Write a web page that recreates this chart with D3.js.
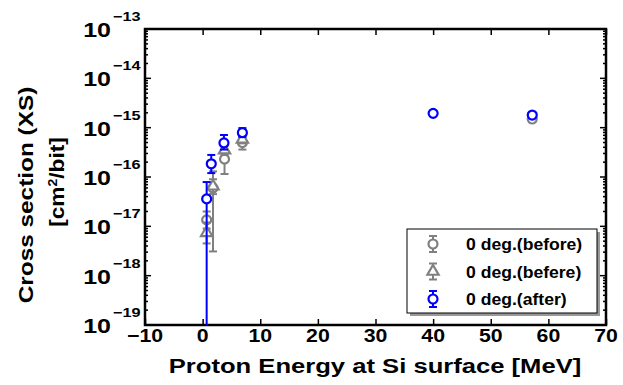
<!doctype html>
<html lang="en">
    <head>
        <meta charset="utf-8">
        <title>Cross section vs proton energy</title>
        <script type="text/javascript" src="https://cdn.jsdelivr.net/npm/d3@7"></script>
        <style>
            body { margin: 0; background: #fff; }
            svg text { font-family: "Liberation Sans", Arial, sans-serif; font-weight: bold; }
        </style>
    </head>
    <body>
        <script type="text/javascript">
            var svgW = 623;
            var svgH = 385;
            var plot = {left: 145, right: 606, top: 29, bottom: 325};

            // data (energy in MeV, cross section in cm2/bit)
            var beforeX  = [0.7, 1.8, 3.8, 6.9, 57.2];
            var beforeY  = [1.35e-17, 6.0e-17, 2.3e-16, 5.0e-16, 1.5e-15];
            var beforeLo = [9.0e-18, 3.1e-18, 1.15e-16, 3.6e-16, 1.3e-15];
            var beforeHi = [2.0e-17, 1.3e-16, 4.5e-16, 7.0e-16, 1.7e-15];

            var befereX  = [0.7, 1.8, 3.8, 6.9];
            var befereY  = [7.4e-18, 6.5e-17, 3.5e-16, 5.8e-16];
            var befereLo = [4.5e-18, 4.5e-17, 2.8e-16, 4.8e-16];
            var befereHi = [1.2e-17, 9.0e-17, 4.3e-16, 7.0e-16];

            var afterX  = [0.7, 1.5, 3.7, 6.9, 40.0, 57.2];
            var afterY  = [3.6e-17, 1.85e-16, 4.9e-16, 7.9e-16, 1.95e-15, 1.8e-15];
            var afterLo = [1e-20, 1.2e-16, 3.6e-16, 6.5e-16, 1.8e-15, 1.65e-15];
            var afterHi = [7.9e-17, 2.8e-16, 7.1e-16, 9.8e-16, 2.1e-15, 1.95e-15];

            var xTicks = [-10, 0, 10, 20, 30, 40, 50, 60, 70];
            var yExps = [-19, -18, -17, -16, -15, -14, -13];
            var legendLabels = ["0 deg.(before)", "0 deg.(befere)", "0 deg.(after)"];

            var gray = "#808080";
            var blue = "#0000ff";

            var xScale = d3.scaleLinear()
                           .domain([-10, 70])
                           .range([plot.left, plot.right]);
            var yScale = d3.scaleLog()
                           .domain([1e-19, 1e-13])
                           .range([plot.bottom, plot.top]);

            var svg = d3.select("body")
                        .append("svg")
                        .attr("width", svgW)
                        .attr("height", svgH);

            svg.append("defs").append("clipPath")
               .attr("id", "clip")
               .append("rect")
               .attr("x", plot.left)
               .attr("y", plot.top)
               .attr("width", plot.right - plot.left)
               .attr("height", plot.bottom - plot.top);

            // axes: ticks point inward on all four sides
            var axisBottom = d3.axisBottom(xScale).tickValues(xTicks).tickSizeInner(-6).tickSizeOuter(0).tickFormat("");
            var axisTop = d3.axisTop(xScale).tickValues(xTicks).tickSizeInner(-6).tickSizeOuter(0).tickFormat("");

            var minorVals = [];
            yExps.forEach(e => {
                if (e < -13) for (var m = 2; m < 10; m++) minorVals.push(m * Math.pow(10, e));
            });
            var majorVals = yExps.map(e => Math.pow(10, e));

            svg.append("g")
               .attr("transform", "translate(0," + plot.bottom + ")")
               .call(axisBottom);
            svg.append("g")
               .attr("transform", "translate(0," + plot.top + ")")
               .call(axisTop);

            // x tick labels (the original font is a little wider than Liberation)
            svg.selectAll("text.xlab")
               .data(xTicks)
               .enter()
               .append("text")
               .attr("class", "xlab")
               .attr("transform", d => "translate(" + xScale(d) + ",342) scale(1.12,1)")
               .attr("text-anchor", "middle")
               .style("font-size", "19px")
               .text(d => d < 0 ? "\u2212" + (-d) : d);

            function yAxis(side, sign) {
                var g = svg.append("g")
                           .attr("transform", "translate(" + side + ",0)");
                g.selectAll("line.major")
                 .data(majorVals)
                 .enter()
                 .append("line")
                 .attr("x1", 0).attr("x2", sign * 6)
                 .attr("y1", d => yScale(d)).attr("y2", d => yScale(d));
                g.selectAll("line.minor")
                 .data(minorVals)
                 .enter()
                 .append("line")
                 .attr("x1", 0).attr("x2", sign * 3)
                 .attr("y1", d => yScale(d)).attr("y2", d => yScale(d));
                g.selectAll("line").attr("stroke", "#000").attr("stroke-width", 1.5);
                return g;
            }
            yAxis(plot.left, 1);
            yAxis(plot.right, -1);

            svg.selectAll(".domain").remove();
            svg.selectAll(".tick line").attr("stroke", "#000").attr("stroke-width", 1.5);

            // frame
            svg.append("rect")
               .attr("x", plot.left)
               .attr("y", plot.top)
               .attr("width", plot.right - plot.left)
               .attr("height", plot.bottom - plot.top)
               .attr("fill", "none")
               .attr("stroke", "#000")
               .attr("stroke-width", 2.5);

            // y tick labels 10^e
            svg.selectAll("text.ylab")
               .data(yExps)
               .enter()
               .append("text")
               .attr("class", "ylab")
               .attr("transform", d => "translate(111," + (yScale(Math.pow(10, d)) + 8) + ") scale(1.25,1)")
               .attr("text-anchor", "end")
               .style("font-size", "20px")
               .text("10");
            svg.selectAll("text.yexp")
               .data(yExps)
               .enter()
               .append("text")
               .attr("class", "yexp")
               .attr("transform", d => "translate(113," + (yScale(Math.pow(10, d)) - 8) + ") scale(1.25,1)")
               .style("font-size", "13px")
               .text(d => "\u2212" + (-d));

            // axis titles
            svg.append("text")
               .attr("transform", "translate(375,373) scale(1.22,1)")
               .attr("text-anchor", "middle")
               .style("font-size", "21px")
               .text("Proton Energy at Si surface [MeV]");

            svg.append("text")
               .attr("transform", "translate(33,195) rotate(-90) scale(1.16,1)")
               .attr("text-anchor", "middle")
               .style("font-size", "21px")
               .text("Cross section (XS)");

            var unit = svg.append("text")
                          .attr("transform", "translate(64,182) rotate(-90) scale(1.08,1)")
                          .attr("text-anchor", "middle")
                          .style("font-size", "21px");
            unit.append("tspan").text("[cm");
            unit.append("tspan").attr("dy", -7).style("font-size", "13px").text("2");
            unit.append("tspan").attr("dy", 7).text("/bit]");

            // data series
            function zip(xs, ys, lo, hi) {
                return xs.map((x, i) => ({x: x, y: ys[i], lo: lo[i], hi: hi[i]}));
            }
            var series = [
                {data: zip(beforeX, beforeY, beforeLo, beforeHi), color: gray, shape: "circle"},
                {data: zip(befereX, befereY, befereLo, befereHi), color: gray, shape: "triangle"},
                {data: zip(afterX, afterY, afterLo, afterHi), color: blue, shape: "circle"}
            ];

            var plotArea = svg.append("g").attr("clip-path", "url(#clip)");

            var triangle = d3.symbol().type(d3.symbolTriangle).size(55);

            function drawMarker(g, shape, color) {
                if (shape === "circle") {
                    g.append("circle")
                     .attr("r", 4.5)
                     .attr("fill", "#fff")
                     .attr("stroke", color)
                     .attr("stroke-width", 2.2);
                } else {
                    g.append("path")
                     .attr("d", triangle)
                     .attr("fill", "#fff")
                     .attr("stroke", color)
                     .attr("stroke-width", 2.2);
                }
            }

            series.forEach(s => {
                var grp = plotArea.append("g");
                var pts = grp.selectAll("g")
                             .data(s.data)
                             .enter()
                             .append("g");
                pts.append("line")
                   .attr("x1", d => xScale(d.x)).attr("x2", d => xScale(d.x))
                   .attr("y1", d => yScale(d.lo)).attr("y2", d => yScale(d.hi))
                   .attr("stroke", s.color).attr("stroke-width", 2);
                ["lo", "hi"].forEach(k => {
                    pts.append("line")
                       .attr("x1", d => xScale(d.x) - 4).attr("x2", d => xScale(d.x) + 4)
                       .attr("y1", d => yScale(d[k])).attr("y2", d => yScale(d[k]))
                       .attr("stroke", s.color).attr("stroke-width", 2);
                });
                pts.append("g")
                   .attr("transform", d => "translate(" + xScale(d.x) + "," + yScale(d.y) + ")")
                   .each(function() { drawMarker(d3.select(this), s.shape, s.color); });
            });

            // legend
            var leg = svg.append("g").attr("transform", "translate(407,229)");
            leg.append("rect")
               .attr("x", 3).attr("y", 3)
               .attr("width", 190).attr("height", 84)
               .attr("fill", "#999");
            leg.append("rect")
               .attr("width", 190).attr("height", 84)
               .attr("fill", "#fff")
               .attr("stroke", "#000")
               .attr("stroke-width", 1);

            var rows = leg.selectAll("g.row")
                          .data(series)
                          .enter()
                          .append("g")
                          .attr("class", "row")
                          .attr("transform", (_, i) => "translate(26," + (15 + i * 27.5) + ")");
            rows.append("line")
                .attr("x1", 0).attr("x2", 0).attr("y1", -8).attr("y2", 8)
                .attr("stroke", d => d.color).attr("stroke-width", 2);
            rows.append("line")
                .attr("x1", -4).attr("x2", 4).attr("y1", -8).attr("y2", -8)
                .attr("stroke", d => d.color).attr("stroke-width", 2);
            rows.append("line")
                .attr("x1", -4).attr("x2", 4).attr("y1", 8).attr("y2", 8)
                .attr("stroke", d => d.color).attr("stroke-width", 2);
            rows.each(function(d) {
                drawMarker(d3.select(this), d.shape, d.color);
            });
            rows.append("text")
                .attr("transform", "translate(33,6) scale(1.1,1)")
                .style("font-size", "16px")
                .text((_, i) => legendLabels[i]);
        </script>
    </body>
</html>
